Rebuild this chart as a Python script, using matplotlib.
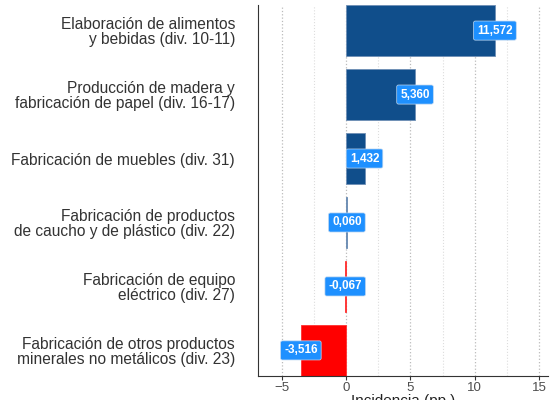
import matplotlib.pyplot as plt
from matplotlib.ticker import MultipleLocator

plt.rcParams['font.family'] = ['Liberation Sans', 'DejaVu Sans']

categorias = [
    "Elaboración de alimentos\ny bebidas (div. 10-11)",
    "Producción de madera y\nfabricación de papel (div. 16-17)",
    "Fabricación de muebles (div. 31)",
    "Fabricación de productos\nde caucho y de plástico (div. 22)",
    "Fabricación de equipo\neléctrico (div. 27)",
    "Fabricación de otros productos\nminerales no metálicos (div. 23)",
]
incidencia = [11.572, 5.360, 1.432, 0.060, -0.067, -3.516]
etiquetas = ["11,572", "5,360", "1,432", "0,060", "-0,067", "-3,516"]

fig = plt.figure(figsize=(5.6, 4), dpi=100)
ax = fig.add_axes([258 / 560, 24 / 400, (548 - 258) / 560, (395 - 24) / 400])

pos = list(range(len(categorias)))
colores = ['#104E8B' if v >= 0 else '#FF0000' for v in incidencia]
bordes = ['#6f8fb5' if v >= 0 else '#ff3030' for v in incidencia]
ax.barh(pos, incidencia, height=0.8, color=colores, edgecolor=bordes, linewidth=0.6, zorder=2)

# etiquetas de valor centradas en el extremo de cada barra
for y, v, t in zip(pos, incidencia, etiquetas):
    ax.text(v, y, t, ha='center', va='center', color='white', fontsize=8.5, fontweight='bold',
            bbox=dict(boxstyle='round,pad=0.3,rounding_size=0.15', fc='#1E90FF', ec='#c0d8f0', lw=0.5),
            zorder=3)

ax.set_ylim(len(categorias) - 0.6, -0.4)
ax.set_xlim(-6.85, 15.7)
ax.set_yticks(pos)
ax.set_yticklabels(categorias, fontsize=11.2, color='#333333', linespacing=1.0)
ax.xaxis.set_major_locator(MultipleLocator(5))
ax.xaxis.set_minor_locator(MultipleLocator(2.5))
ax.grid(axis='x', which='major', color='#bbbbbb', linestyle=':', linewidth=0.9, zorder=0)
ax.grid(axis='x', which='minor', color='#dddddd', linestyle=':', linewidth=0.8, zorder=0)
ax.tick_params(axis='y', length=0, pad=16.5)
ax.tick_params(axis='x', which='major', length=3, color='#333333', labelsize=9.5, labelcolor='#4d4d4d', pad=1)
ax.tick_params(axis='x', which='minor', length=0)
for s in ['top', 'right']:
    ax.spines[s].set_visible(False)
ax.spines['left'].set_color('#333333')
ax.spines['bottom'].set_color('#333333')
ax.set_xlabel("Incidencia (pp.)", fontsize=11, color='#222222', labelpad=0)

fig.savefig('out.png', dpi=100)
